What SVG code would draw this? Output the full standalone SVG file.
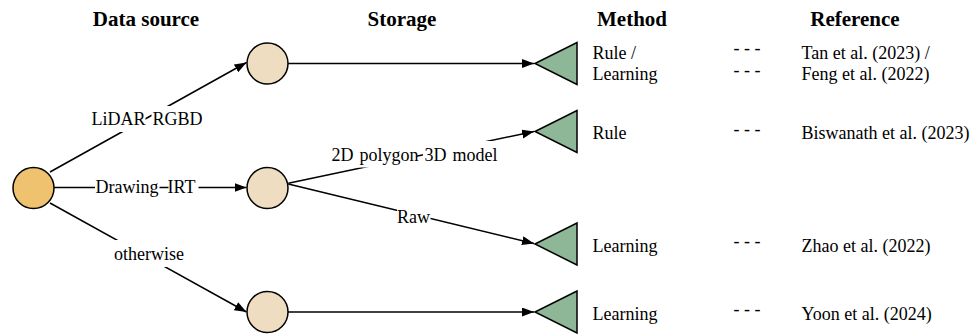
<svg xmlns="http://www.w3.org/2000/svg" width="975" height="334" viewBox="0 0 975 334">
  <style>
    text { font-family: "Liberation Serif", "Times New Roman", serif; fill: #000; }
    .hdr { font-size: 21px; font-weight: bold; text-anchor: middle; }
    .lbl { font-size: 18px; }
    .edge-lbl { font-size: 18px; }
    .bg { fill: #fff; stroke: none; }
    .edge { stroke: #000; stroke-width: 1.5; fill: none; }
    .root { fill: #EFC26F; stroke: #000; stroke-width: 1.5; }
    .store { fill: #EEDDC1; stroke: #000; stroke-width: 1.5; }
    .method { fill: #8DB796; stroke: #000; stroke-width: 1.5; }
  </style>
  <defs>
    <marker id="arrow" markerUnits="userSpaceOnUse" markerWidth="13" markerHeight="10" refX="12" refY="4.5" orient="auto">
      <path d="M0,0 L12,4.5 L0,9 z" fill="#000"/>
    </marker>
  </defs>

  <rect width="975" height="334" fill="#fff"/>

  <!-- column headers -->
  <g id="headers">
    <text class="hdr" x="146" y="26">Data source</text>
    <text class="hdr" x="402" y="26">Storage</text>
    <text class="hdr" x="632" y="26">Method</text>
    <text class="hdr" x="855" y="26">Reference</text>
  </g>

  <!-- connectors -->
  <g id="connectors">
    <line class="edge" x1="50" y1="172" x2="246.5" y2="62.5" marker-end="url(#arrow)"/>
    <line class="edge" x1="54" y1="187.5" x2="246.5" y2="187.5" marker-end="url(#arrow)"/>
    <line class="edge" x1="50" y1="203" x2="246.5" y2="312" marker-end="url(#arrow)"/>
    <line class="edge" x1="288" y1="63.5" x2="534" y2="63.5" marker-end="url(#arrow)"/>
    <line class="edge" x1="288.3" y1="183.3" x2="534" y2="131.5" marker-end="url(#arrow)"/>
    <line class="edge" x1="288.3" y1="184" x2="534" y2="243.5" marker-end="url(#arrow)"/>
    <line class="edge" x1="288" y1="312" x2="534" y2="312" marker-end="url(#arrow)"/>

    <!-- edge labels: one background box per word, so the line shows between words -->
    <g id="label-lidar">
      <rect class="bg" x="91" y="106" width="54.5" height="26"/>
      <rect class="bg" x="151.5" y="106" width="51" height="26"/>
      <text class="edge-lbl" x="91.5" y="125" word-spacing="2.5">LiDAR RGBD</text>
    </g>
    <g id="label-drawing">
      <rect class="bg" x="95" y="173" width="64.5" height="26"/>
      <rect class="bg" x="168.5" y="173" width="30" height="26"/>
      <text class="edge-lbl" x="95.5" y="192.5" word-spacing="4.5">Drawing IRT</text>
    </g>
    <g id="label-otherwise">
      <rect class="bg" x="113" y="240" width="71" height="27"/>
      <text class="edge-lbl" x="149" y="260" text-anchor="middle">otherwise</text>
    </g>
    <g id="label-polygon">
      <rect class="bg" x="331" y="141" width="86" height="26.5"/>
      <rect class="bg" x="423" y="141" width="72" height="26.5"/>
      <text class="edge-lbl" x="331.5" y="160.5" word-spacing="1.5">2D polygon 3D model</text>
    </g>
    <g id="label-raw">
      <rect class="bg" x="397" y="203.5" width="33.5" height="26.5"/>
      <text class="edge-lbl" x="413.5" y="223.3" text-anchor="middle">Raw</text>
    </g>
  </g>

  <!-- data source -->
  <g id="node-source">
    <circle class="root" cx="33.5" cy="188" r="20.5"/>
  </g>

  <!-- storage nodes -->
  <g id="node-store-1">
    <circle class="store" cx="267.5" cy="63.5" r="20.5"/>
  </g>
  <g id="node-store-2">
    <circle class="store" cx="267.5" cy="188" r="20.5"/>
  </g>
  <g id="node-store-3">
    <circle class="store" cx="267.5" cy="312" r="20.5"/>
  </g>

  <!-- method nodes -->
  <g id="node-method-1">
    <polygon class="method" points="535,63.5 577,42.5 577,84.5"/>
    <text class="lbl" x="592.5" y="58.5">Rule /</text>
    <text class="lbl" x="592.5" y="80">Learning</text>
  </g>
  <g id="node-method-2">
    <polygon class="method" points="535,131.5 577,110.5 577,152.5"/>
    <text class="lbl" x="592.5" y="139">Rule</text>
  </g>
  <g id="node-method-3">
    <polygon class="method" points="535,244 577,223 577,265"/>
    <text class="lbl" x="592.5" y="251.5">Learning</text>
  </g>
  <g id="node-method-4">
    <polygon class="method" points="535,312 577,291 577,333"/>
    <text class="lbl" x="592.5" y="319.5">Learning</text>
  </g>

  <!-- references -->
  <g id="references">
    <text class="lbl" x="733.5" y="54">- - -</text>
    <text class="lbl" x="801.5" y="58.5">Tan et al. (2023) /</text>
    <text class="lbl" x="733.5" y="75.5">- - -</text>
    <text class="lbl" x="801.5" y="80">Feng et al. (2022)</text>
    <text class="lbl" x="733.5" y="134.5">- - -</text>
    <text class="lbl" x="801.5" y="139">Biswanath et al. (2023)</text>
    <text class="lbl" x="733.5" y="247">- - -</text>
    <text class="lbl" x="801.5" y="251.5">Zhao et al. (2022)</text>
    <text class="lbl" x="733.5" y="315">- - -</text>
    <text class="lbl" x="801.5" y="319.5">Yoon et al. (2024)</text>
  </g>
</svg>
